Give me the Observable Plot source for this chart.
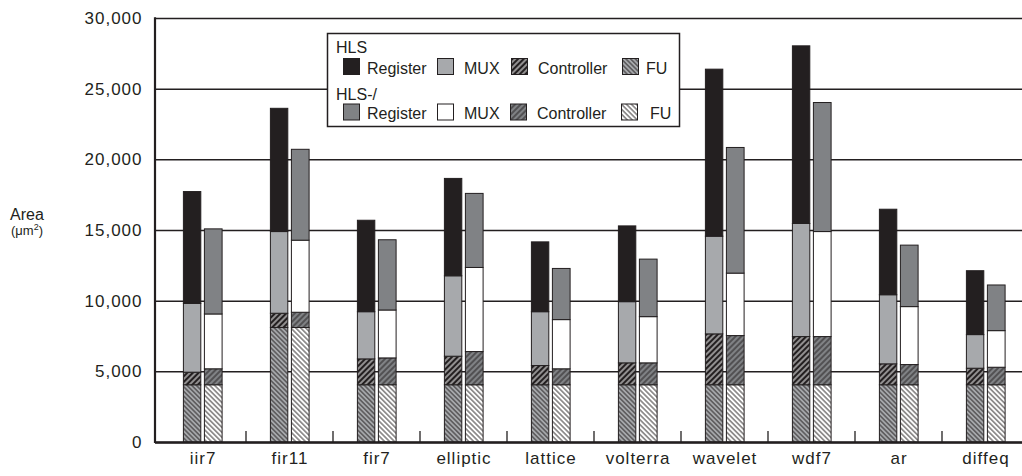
<!DOCTYPE html>
<html><head><meta charset="utf-8">
<script src="https://cdn.jsdelivr.net/npm/d3@7"></script>
<script src="https://cdn.jsdelivr.net/npm/@observablehq/plot@0.6"></script>
<style>
body{margin:0;background:#fff;}
#chart svg{display:block;}
</style></head><body><div id="chart"></div>
<script>
// ---- data (areas in µm², per component) ----
const categories = ["iir7","fir11","fir7","elliptic","lattice","volterra","wavelet","wdf7","ar","diffeq"];
const parts = ["FU","Controller","MUX","Register"];
// HLS
const hlsFU         = [4050, 8100, 4050, 4050, 4050, 4050, 4050, 4050, 4050, 4050];
const hlsController = [ 890, 1010, 1830, 2020, 1360, 1550, 3600, 3410, 1480, 1170];
const hlsMUX        = [4870, 5780, 3340, 5690, 3810, 4330, 6910, 8000, 4890, 2380];
const hlsRegister   = [7910, 8720, 6470, 6890, 4940, 5360,11820,12570, 6050, 4520];
// HLS-/
const hlslFU         = [4050, 8100, 4050, 4050, 4050, 4050, 4050, 4050, 4050, 4050];
const hlslController = [1130, 1080, 1900, 2350, 1130, 1550, 3480, 3410, 1430, 1240];
const hlslMUX        = [3880, 5100, 3390, 5950, 3480, 3270, 4420, 7430, 4100, 2590];
const hlslRegister   = [6020, 6430, 4970, 5240, 3620, 4070, 8890, 9130, 4350, 3230];
const yTicks = [0, 5000, 10000, 15000, 20000, 25000, 30000];

const ink = "#231f20";
const fills = {
  HLS:  {FU: "url(#pHlsFU)",  Controller: "url(#pHlsCtrl)",  MUX: "#a7a9ac", Register: ink},
  HLSl: {FU: "url(#pHlslFU)", Controller: "url(#pHlslCtrl)", MUX: "#ffffff", Register: "#808285"}
};
function buildRows(key, arrays) {
  const out = [];
  categories.forEach((c, i) => {
    parts.forEach((p, j) => out.push({cat: c, part: p, value: arrays[j][i], fill: fills[key][p]}));
  });
  return out;
}
const hlsRows  = buildRows("HLS",  [hlsFU, hlsController, hlsMUX, hlsRegister]);
const hlslRows = buildRows("HLSl", [hlslFU, hlslController, hlslMUX, hlslRegister]);

const font = "'Liberation Sans', Arial, Helvetica, sans-serif";

const chart = Plot.plot({
  width: 1022, height: 476,
  marginTop: 18, marginBottom: 34, marginLeft: 155, marginRight: 0,
  style: {fontFamily: font, fontSize: "17px", color: ink, background: "white", overflow: "visible"},
  x: {type: "band", domain: categories, range: [155, 1033], padding: 0},
  y: {domain: [0, 30000], range: [442, 18]},
  color: {type: "identity"},
  marks: [
    Plot.gridY(yTicks, {stroke: ink, strokeOpacity: 1, strokeWidth: 1.5}),
    Plot.barY(hlsRows,  {x: "cat", y: "value", fill: "fill", stroke: ink, strokeWidth: 1, insetLeft: 24.4, insetRight: 45.2}),
    Plot.barY(hlslRows, {x: "cat", y: "value", fill: "fill", stroke: ink, strokeWidth: 1, insetLeft: 45.4, insetRight: 23.9}),
    Plot.ruleY([0], {stroke: ink, strokeWidth: 2.5}),
    Plot.axisY({ticks: yTicks, tickSize: 0, tickPadding: 13, tickFormat: d3.format(","), label: null, fontSize: 17}),
    Plot.axisX({tickSize: 0, tickPadding: 9, label: null, fontSize: 17})
  ]
});
document.getElementById("chart").appendChild(chart);

const svg = d3.select(chart);
svg.insert("defs", ":first-child").html(`
  <pattern id="pHlsFU" patternUnits="userSpaceOnUse" width="3.3" height="3.3" patternTransform="rotate(-45)">
    <rect width="3.3" height="3.3" fill="#a7a9ac"/>
    <line x1="1.65" y1="0" x2="1.65" y2="3.3" stroke="${ink}" stroke-width="0.9"/>
  </pattern>
  <pattern id="pHlslFU" patternUnits="userSpaceOnUse" width="3.5" height="3.5" patternTransform="rotate(-45)">
    <rect width="3.5" height="3.5" fill="#ffffff"/>
    <line x1="1.75" y1="0" x2="1.75" y2="3.5" stroke="${ink}" stroke-width="0.9"/>
  </pattern>
  <pattern id="pHlsCtrl" patternUnits="userSpaceOnUse" width="4" height="4" patternTransform="rotate(45)">
    <rect width="4" height="4" fill="${ink}"/>
    <line x1="2" y1="0" x2="2" y2="4" stroke="#ffffff" stroke-width="1"/>
  </pattern>
  <pattern id="pHlslCtrl" patternUnits="userSpaceOnUse" width="4" height="4" patternTransform="rotate(45)">
    <rect width="4" height="4" fill="#808285"/>
    <line x1="2" y1="0" x2="2" y2="4" stroke="${ink}" stroke-width="1"/>
  </pattern>`);

svg.selectAll('g[aria-label="x-axis tick label"], g[aria-label="y-axis tick label"]').attr("letter-spacing", "1px");

const xs = chart.scale("x"), ys = chart.scale("y");
// y axis line
svg.append("line").attr("x1", 155).attr("x2", 155).attr("y1", ys.apply(30000) - 0.75).attr("y2", ys.apply(0) + 1)
  .attr("stroke", ink).attr("stroke-width", 2.2);
// category separator ticks
categories.slice(1).forEach(c => {
  const x = xs.apply(c);
  svg.append("line").attr("x1", x).attr("x2", x).attr("y1", ys.apply(0) - 11).attr("y2", ys.apply(0))
    .attr("stroke", ink).attr("stroke-width", 1.3);
});

// y label
const yl = svg.append("g").attr("font-family", font).attr("fill", ink).attr("text-anchor", "start");
yl.append("text").attr("x", 10).attr("y", 220).attr("font-size", 16).attr("text-anchor", "start").text("Area");
const unit = yl.append("text").attr("x", 11).attr("y", 235).attr("font-size", 13).attr("text-anchor", "start");
unit.append("tspan").text("(\u03BCm");
unit.append("tspan").attr("font-size", 9).attr("dy", -5).text("2");
unit.append("tspan").attr("dy", 5).text(")");

// legend
const lg = svg.append("g").attr("font-family", font).attr("font-size", 16).attr("fill", ink).attr("text-anchor", "start");
lg.append("rect").attr("x", 327.5).attr("y", 33.5).attr("width", 352).attr("height", 93)
  .attr("fill", "white").attr("stroke", ink).attr("stroke-width", 1.5);
const legendRows = [
  {title: "HLS", key: "HLS", ty: 53, sy: 58.5, boxes: [343, 437, 511, 622], texts: [367, 464, 538, 646]},
  {title: "HLS-/", key: "HLSl", ty: 100, sy: 104, boxes: [343, 437, 510, 621], texts: [367, 464, 537, 650]}
];
const legendParts = ["Register", "MUX", "Controller", "FU"];
legendRows.forEach(r => {
  lg.append("text").attr("x", 336).attr("y", r.ty).attr("text-anchor", "start").text(r.title);
  legendParts.forEach((p, i) => {
    lg.append("rect").attr("x", r.boxes[i] + 0.5).attr("y", r.sy).attr("width", 16).attr("height", 16)
      .attr("fill", fills[r.key][p]).attr("stroke", ink).attr("stroke-width", 1);
    lg.append("text").attr("x", r.texts[i]).attr("y", r.sy + 15).attr("text-anchor", "start").text(p);
  });
});
</script>
</body></html>
